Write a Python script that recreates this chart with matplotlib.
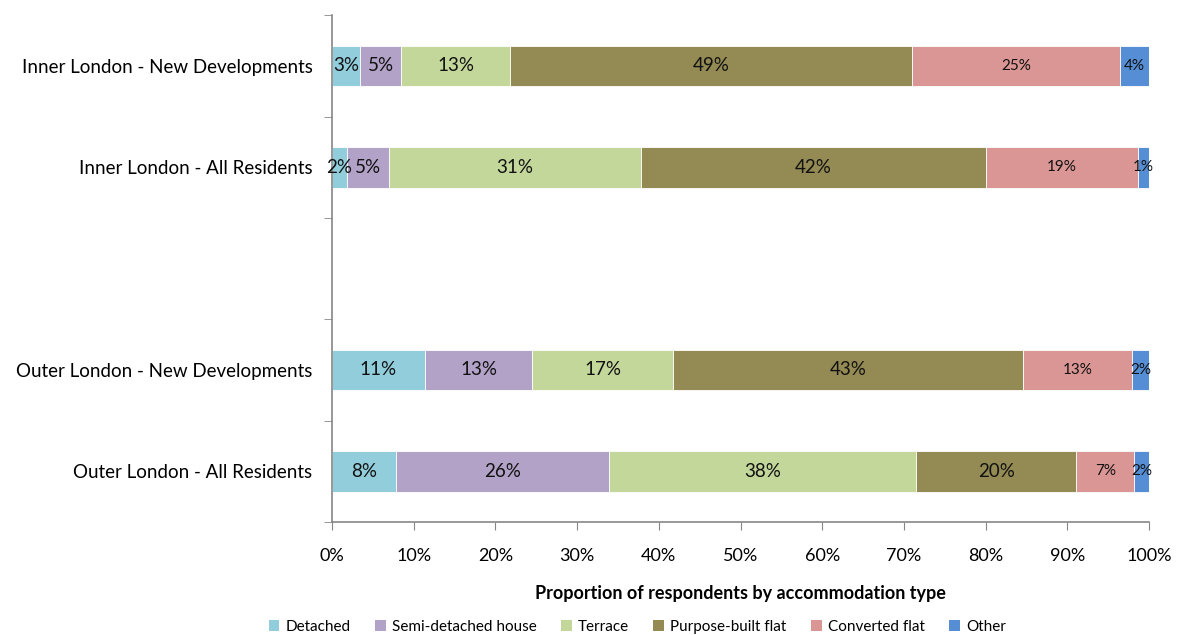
import numpy as np
import matplotlib.pyplot as plt
from matplotlib.patches import Patch

plt.rcParams['font.family'] = ['Lato', 'DejaVu Sans']

# Row labels, top to bottom (blank slot is a gap between the groups)
categories = ['Inner London - New Developments', 'Inner London - All Residents', '',
              'Outer London - New Developments', 'Outer London - All Residents']
series = ['Detached', 'Semi-detached house', 'Terrace', 'Purpose-built flat',
          'Converted flat', 'Other']
colors = ['#92CDDC', '#B2A2C7', '#C4D79B', '#948A54', '#DA9694', '#558ED5']

# Shares in percent for each row that has data (None = empty slot)
detached = [3.4, 1.8, None, 11.35, 7.8]
semi_detached = [5.1, 5.2, None, 13.15, 26.1]
terrace = [13.3, 30.8, None, 17.2, 37.6]
purpose_built = [49.2, 42.2, None, 42.9, 19.6]
converted = [25.4, 18.65, None, 13.3, 7.1]
other = [3.6, 1.35, None, 2.1, 1.8]

values = [detached, semi_detached, terrace, purpose_built, converted, other]
small_label = [False, False, False, False, True, True]

fig = plt.figure(figsize=(11.8, 6.35), dpi=100)
ax = fig.add_axes([0.2814, 0.178, 0.6923, 0.798])

rows = [i for i, v in enumerate(detached) if v is not None]
left = np.zeros(len(categories))
for vals, col, name, small in zip(values, colors, series, small_label):
    for r in rows:
        w = vals[r]
        ax.barh(r, w, left=left[r], height=0.4, color=col, edgecolor='white',
                linewidth=0.6)
        ax.text(left[r] + w / 2, r, f'{round(w):.0f}%', ha='center', va='center',
                fontsize=11 if small else 13.5, color='#111111')
        left[r] += w

ax.set_xlim(0, 100)
ax.set_ylim(len(categories) - 0.5, -0.5)

ax.set_xticks(np.arange(0, 101, 10))
ax.set_xticklabels([f'{t}%' for t in range(0, 101, 10)], fontsize=13)
ax.tick_params(axis='x', length=6, color='#868686', pad=13)

ax.set_yticks(range(len(categories)))
ax.set_yticklabels(categories, fontsize=13.5)
ax.tick_params(axis='y', which='major', length=0, pad=14)
ax.set_yticks(np.arange(-0.5, len(categories), 1), minor=True)
ax.tick_params(axis='y', which='minor', length=6, color='#868686')

for s in ['top', 'right']:
    ax.spines[s].set_visible(False)
for s in ['left', 'bottom']:
    ax.spines[s].set_color('#868686')
    ax.spines[s].set_linewidth(1.2)

ax.set_xlabel('Proportion of respondents by accommodation type', fontsize=13,
              fontweight='bold', labelpad=15)

handles = [Patch(facecolor=c, edgecolor='none') for c in colors]
fig.legend(handles, series, loc='center', bbox_to_anchor=(0.54, 0.013), ncol=6,
           frameon=False, fontsize=11, handlelength=0.7, handleheight=0.7,
           handletextpad=0.4, columnspacing=1.6)

fig.savefig('out.png', dpi=100)
